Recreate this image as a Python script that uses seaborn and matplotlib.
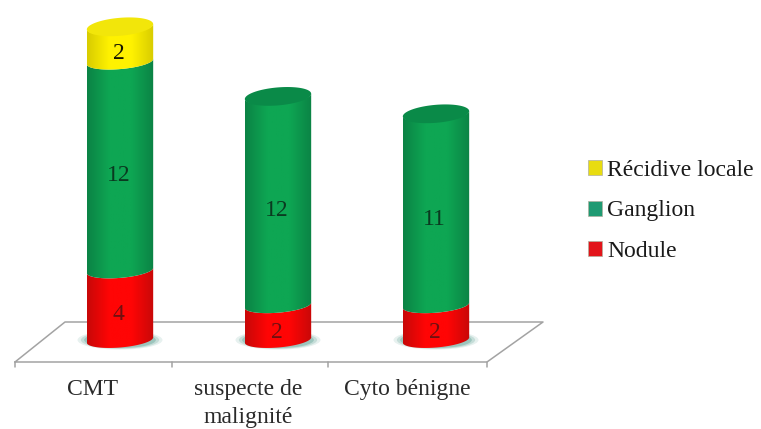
import numpy as np
import pandas as pd
import seaborn as sns
import matplotlib
matplotlib.use("Agg")
import matplotlib.pyplot as plt
from matplotlib.patches import Patch, PathPatch, Ellipse
from matplotlib.path import Path

categories = ["CMT", "suspecte de\nmalignité", "Cyto bénigne"]
nodule = [4, 2, 2]
ganglion = [12, 12, 11]
recidive = [2, 0, 0]

series_names = ["Nodule", "Ganglion", "Récidive locale"]
series_values = [nodule, ganglion, recidive]
edge_colors = ["#c80808", "#0b8345", "#d8cc00"]
mid_colors = ["#ff0505", "#0ea653", "#fff200"]
cap_colors = ["#f01010", "#0a8a48", "#f2e60a"]
text_colors = ["#701010", "#0a3a20", "#151500"]
swatch_colors = ["#e2141a", "#1f9a72", "#e8dc10"]

W, H = 761, 429
PX_PER_UNIT = 17.4
PX_PER_CAT = 158
BASE_PX, FIRST_PX = 340, 120
BAR_WIDTH = 0.42
RX = BAR_WIDTH / 2
RY = 7.5 / PX_PER_UNIT
TILT = 0.08 * PX_PER_CAT / PX_PER_UNIT

sns.set_theme(style="white")
plt.rcParams["font.family"] = ["Liberation Serif", "DejaVu Serif"]

fig = plt.figure(figsize=(W / 100, H / 100), dpi=100)
ax = fig.add_axes([0, 0, 1, 1])
ax.axis("off")
xlim = (-FIRST_PX / PX_PER_CAT, (W - FIRST_PX) / PX_PER_CAT)
ylim = ((BASE_PX - H) / PX_PER_UNIT, BASE_PX / PX_PER_UNIT)


def px(x, y):
    """Convert figure pixels (origin top-left) to data coordinates."""
    return (np.asarray(x) - FIRST_PX) / PX_PER_CAT, (BASE_PX - np.asarray(y)) / PX_PER_UNIT


# Floor of the chart and its category ticks
floor = [(15, 362), (65, 322), (543, 322), (487, 362), (15, 362)]
fx, fy = px(*zip(*floor))
ax.plot(fx, fy, color="#a3a3a3", lw=1.1, zorder=1)
for tick_x in (15, 172, 328, 487):
    tx, ty = px([tick_x, tick_x], [362, 367])
    ax.plot(tx, ty, color="#a3a3a3", lw=1.1, zorder=1)

# Stacked bars: seaborn lays out each series on the categorical axis
bottoms = np.zeros(len(categories))
segments = []
for name, values in zip(series_names, series_values):
    frame = pd.DataFrame({"cat": categories, "val": values})
    before = len(ax.patches)
    sns.barplot(data=frame, x="cat", y="val", bottom=bottoms, width=BAR_WIDTH,
                color=mid_colors[len(segments)], saturation=1, ax=ax, zorder=2)
    segments.append(list(ax.patches[before:]))
    bottoms = bottoms + np.asarray(values)
ax.axis("off")


def arc(cx, cy, reverse=False):
    t = np.linspace(np.pi, 0, 40)
    dx = RX * np.cos(t)
    xs, ys = cx + dx, cy - RY * np.sin(t) + TILT * dx
    return (xs[::-1], ys[::-1]) if reverse else (xs, ys)


# Halo under each column where it meets the floor
for i in range(len(categories)):
    for grow, alpha in ((1.28, 0.12), (1.18, 0.2), (1.08, 0.3)):
        ax.add_patch(Ellipse((i, 0.0), BAR_WIDTH * grow, 2 * RY * grow,
                             angle=0, color="#3f8f80", alpha=alpha, lw=0, zorder=1.5))

# Turn each rectangle into a shaded cylinder section
for s, bars in enumerate(segments):
    cmap = matplotlib.colors.LinearSegmentedColormap.from_list(
        "shade", [edge_colors[s], mid_colors[s], mid_colors[s], edge_colors[s]])
    for i, bar in enumerate(bars):
        bar.set_visible(False)
        h = bar.get_height()
        if h <= 0:
            continue
        cx = bar.get_x() + bar.get_width() / 2
        y0 = bar.get_y()
        y1 = y0 + h
        tx, ty = arc(cx, y1)
        bx, by = arc(cx, y0, reverse=True)
        verts = np.column_stack([np.r_[tx, bx], np.r_[ty, by]])
        clip = Path(np.vstack([verts, verts[0]]), closed=True)
        grad = np.linspace(0, 1, 128).reshape(1, -1)
        im = ax.imshow(grad, cmap=cmap, aspect="auto", zorder=3,
                       extent=(cx - RX, cx + RX, y0 - 2, y1 + 2))
        im.set_clip_path(PathPatch(clip, transform=ax.transData))
        is_top = not any(series_values[k][i] > 0
                         for k in range(s + 1, len(series_values)))
        if is_top:
            t = np.linspace(0, 2 * np.pi, 80)
            dx = RX * np.cos(t)
            ax.fill(cx + dx, y1 + 1.2 * RY * np.sin(t) + TILT * dx,
                    color=cap_colors[s], lw=0, zorder=4)
        ax.text(cx - 0.01, (y0 + y1) / 2 - 0.55, str(series_values[s][i]),
                ha="center", va="center", fontsize=17,
                color=text_colors[s], zorder=5)

# Category labels below the floor
for label_x, label in zip((93, 248, 407), categories):
    lx, ly = px(label_x, 379)
    ax.text(lx, ly, label, ha="center", va="top", fontsize=17,
            color="#2a2a2a", linespacing=1.45, zorder=5)

ax.set_xlim(*xlim)
ax.set_ylim(*ylim)

# Legend, top series first
handles = [Patch(facecolor=swatch_colors[k], edgecolor="#b0b0a0", lw=0.5, label=series_names[k])
           for k in (2, 1, 0)]
ax.legend(handles=handles, loc="upper left", frameon=False,
          bbox_to_anchor=(588 / W, 1 - 160 / H), bbox_transform=fig.transFigure,
          fontsize=17, handlelength=0.6, handleheight=0.6, handletextpad=0.2,
          labelspacing=0.82, borderpad=0, borderaxespad=0, labelcolor="#1a1a1a")

fig.savefig("out.png", dpi=100, facecolor="white")
